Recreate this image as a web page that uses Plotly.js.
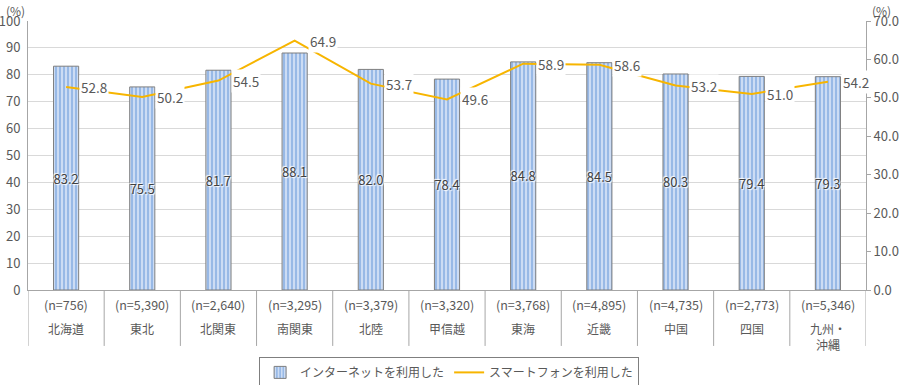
<!DOCTYPE html>
<html>
<head>
<meta charset="utf-8">
<script src="https://cdn.plot.ly/plotly-3.0.1.min.js"></script>
<style>html,body{margin:0;padding:0;background:#fff;}#chart{width:900px;height:385px;}</style>
</head>
<body>
<div id="chart"></div>
<script>
const categories = ["北海道","東北","北関東","南関東","北陸","甲信越","東海","近畿","中国","四国","九州・沖縄"];
const categoryLabels = ["北海道","東北","北関東","南関東","北陸","甲信越","東海","近畿","中国","四国","九州・<br>沖縄"];
const sampleSizes = ["756","5,390","2,640","3,295","3,379","3,320","3,768","4,895","4,735","2,773","5,346"];
const internetUse = [83.2,75.5,81.7,88.1,82.0,78.4,84.8,84.5,80.3,79.4,79.3];
const smartphoneUse = [52.8,50.2,54.5,64.9,53.7,49.6,58.9,58.6,53.2,51.0,54.2];
const leftTicks = [0,10,20,30,40,50,60,70,80,90,100];
const rightTicks = [0,10,20,30,40,50,60,70];

const FONT = '"Noto Sans CJK JP", "Noto Sans", sans-serif';
const TXT = '#595959';
const AX = '#a6a6a6';

const traces = [
  {
    type: 'bar',
    name: 'インターネットを利用した',
    x: categories,
    y: internetUse,
    width: 0.33,
    marker: {
      color: '#a9c6ee',
      line: {color: '#7f7f7f', width: 1},
      pattern: {shape: '|', fgcolor: '#e3ecfa', bgcolor: '#98b9e6', size: 4, solidity: 0.35}
    },
    text: internetUse.map(v => v.toFixed(1)),
    textposition: 'inside',
    insidetextanchor: 'middle',
    constraintext: 'none',
    textangle: 0,
    textfont: {family: FONT, size: 13, color: '#404040', shadow: '1px 1px 1px #fff, -1px -1px 1px #fff'},
    hoverinfo: 'x+y'
  },
  {
    type: 'scatter',
    mode: 'lines',
    name: 'スマートフォンを利用した',
    x: categories,
    y: smartphoneUse,
    yaxis: 'y2',
    line: {color: '#f7b500', width: 2},
    hoverinfo: 'x+y'
  }
];

const annotations = [];
smartphoneUse.forEach((v, i) => {
  annotations.push({
    x: categories[i], y: v, xref: 'x', yref: 'y2',
    text: v.toFixed(1), showarrow: false,
    xanchor: 'left', yanchor: 'middle', xshift: 13,
    bgcolor: '#ffffff', borderpad: 1,
    font: {family: FONT, size: 13.5, color: TXT}
  });
});
categories.forEach((c, i) => {
  annotations.push({
    x: c, y: 0, xref: 'x', yref: 'paper',
    text: '(n=' + sampleSizes[i] + ')', showarrow: false,
    xanchor: 'center', yanchor: 'middle', yshift: -14,
    font: {family: FONT, size: 12.5, color: TXT}
  });
  annotations.push({
    x: c, y: 0, xref: 'x', yref: 'paper',
    text: categoryLabels[i], showarrow: false,
    xanchor: 'center', yanchor: 'top', yshift: -28,
    font: {family: FONT, size: 12, color: TXT}
  });
});
annotations.push({
  x: 0, y: 1.076, xref: 'paper', yref: 'paper', text: '(%)', showarrow: false,
  xanchor: 'right', yanchor: 'top', xshift: -2, borderpad: 0,
  font: {family: FONT, size: 12, color: TXT}
});
annotations.push({
  x: 1, y: 1.076, xref: 'paper', yref: 'paper', text: '(%)', showarrow: false,
  xanchor: 'left', yanchor: 'top', xshift: 5, borderpad: 0,
  font: {family: FONT, size: 12, color: TXT}
});

const shapes = [];
for (let i = 0; i <= categories.length; i++) {
  shapes.push({
    type: 'line', xref: 'x', yref: 'paper',
    x0: i - 0.5, x1: i - 0.5, y0: 0, y1: -0.208,
    line: {color: AX, width: 1}
  });
}

const layout = {
  width: 900, height: 385,
  margin: {l: 28, r: 34, t: 21, b: 95},
  paper_bgcolor: '#fff', plot_bgcolor: '#fff',
  font: {family: FONT, size: 13, color: TXT},
  showlegend: true,
  legend: {
    orientation: 'h', xref: 'container', yref: 'container',
    x: 0.499, xanchor: 'center', y: 0.073, yanchor: 'top',
    bordercolor: '#7f7f7f', borderwidth: 1,
    font: {family: FONT, size: 12, color: TXT},
    traceorder: 'normal', itemwidth: 30, tracegroupgap: 0
  },
  xaxis: {
    type: 'category', range: [-0.5, 10.5],
    showticklabels: false, ticks: '',
    showline: true, linecolor: AX, linewidth: 1,
    showgrid: false, zeroline: false, fixedrange: true
  },
  yaxis: {
    range: [0, 100], tickvals: leftTicks, ticktext: leftTicks.map(String),
    showgrid: true, gridcolor: '#d9d9d9', gridwidth: 1,
    showline: true, linecolor: AX, linewidth: 1,
    zeroline: false, ticks: '', ticklabelstandoff: 4, automargin: false,
    tickfont: {family: FONT, size: 13, color: TXT}
  },
  yaxis2: {
    range: [0, 70], overlaying: 'y', side: 'right',
    tickvals: rightTicks, ticktext: rightTicks.map(v => v.toFixed(1)),
    showgrid: false, zeroline: false, automargin: false,
    showline: true, linecolor: AX, linewidth: 1,
    ticks: 'outside', ticklen: 4, tickcolor: AX,
    tickfont: {family: FONT, size: 13, color: TXT}
  },
  annotations: annotations,
  shapes: shapes
};

Plotly.newPlot('chart', traces, layout, {displayModeBar: false, staticPlot: true});
</script>
</body>
</html>
